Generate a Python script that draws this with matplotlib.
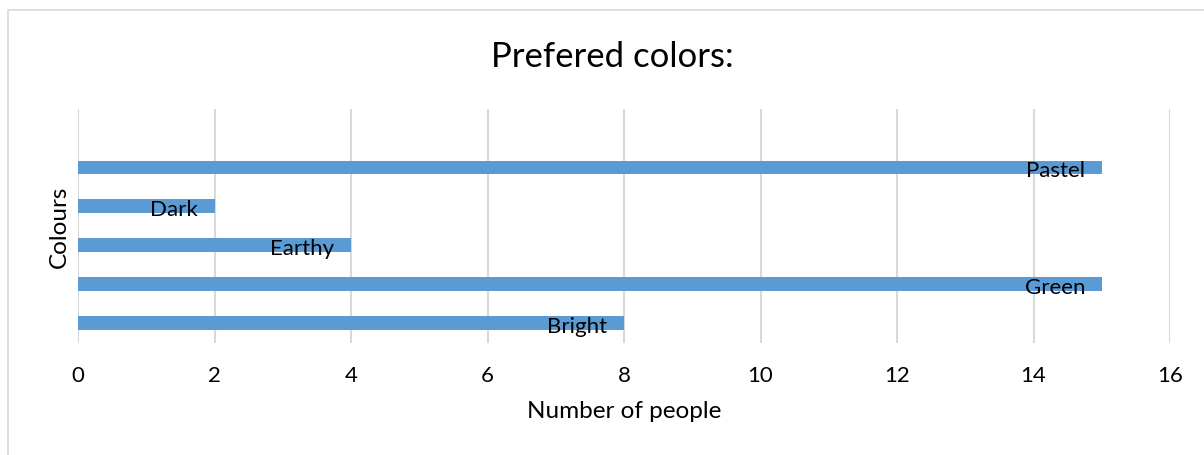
import matplotlib.pyplot as plt
from matplotlib.patches import Rectangle

plt.rcParams['font.family'] = ['Lato', 'DejaVu Sans']

colours = ["Bright", "Green", "Earthy", "Dark", "Pastel"]
people = [8, 15, 4, 2, 15]

fig = plt.figure(figsize=(12.04, 4.56), dpi=100)
ax = fig.add_axes([78 / 1204, 1 - 343.5 / 456, (1170 - 78) / 1204, (343.5 - 110) / 456])

# chart border like excel
fig.patches.append(Rectangle((8 / 1204, -0.1), 1.2, 1 - 11 / 456 + 0.1, transform=fig.transFigure,
                             fill=False, edgecolor="#d9d9d9", linewidth=1.2))

pos = list(range(len(colours)))
ax.barh(pos, people, height=0.35, color="#5b9bd5", zorder=3)
for p, v, name in zip(pos, people, colours):
    ax.annotate(name, (v, p), xytext=(-12, -2), textcoords="offset points",
                ha="right", va="center", fontsize=16, color="black", zorder=4)

ax.set_xlim(0, 16)
ax.set_ylim(-0.5, 5.5)
ax.set_xticks(range(0, 17, 2))
ax.set_yticks([])
ax.grid(axis="x", color="#d9d9d9", linewidth=1.5, zorder=0)
for s in ax.spines.values():
    s.set_visible(False)
ax.tick_params(axis="x", length=0, labelsize=16, pad=16, labelcolor="#000000")

ax.set_xlabel("Number of people", fontsize=17.5, labelpad=11)
ax.set_ylabel("Colours", fontsize=17.5, labelpad=6)
fig.text(612 / 1204, 1 - 57 / 456, "Prefered colors:", ha="center", va="center", fontsize=25)

fig.savefig("out.png", dpi=100)
